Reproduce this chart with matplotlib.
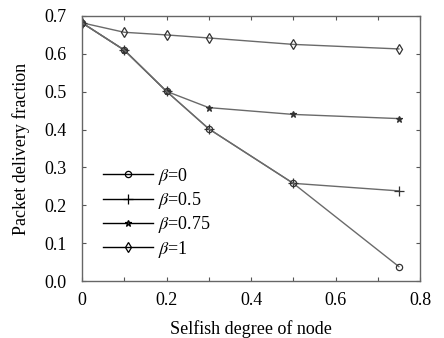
import matplotlib
matplotlib.use("Agg")
import matplotlib.pyplot as plt
from matplotlib.ticker import MultipleLocator

plt.rcParams['font.family'] = ['Liberation Serif', 'DejaVu Serif']
plt.rcParams['mathtext.fontset'] = 'stix'

selfish = [0.0, 0.1, 0.2, 0.3, 0.5, 0.75]
pdf_b0 = [0.682, 0.610, 0.501, 0.402, 0.258, 0.038]
pdf_b05 = [0.682, 0.610, 0.501, 0.402, 0.258, 0.238]
pdf_b075 = [0.682, 0.610, 0.501, 0.458, 0.440, 0.429]
pdf_b1 = [0.682, 0.657, 0.650, 0.642, 0.625, 0.613]
labels = [r'$\beta$=0', r'$\beta$=0.5', r'$\beta$=0.75', r'$\beta$=1']

fig = plt.figure(figsize=(4.44, 3.38), dpi=100)
ax = fig.add_axes([82/444, 1-281/338, (420-82)/444, (281-16)/338])

line_c = '#6a6a6a'
mk_c = '#333333'
styles = [
    dict(marker='o', ms=4.5, mfc='none'),
    dict(marker='+', ms=7),
    dict(marker='*', ms=5, mfc=mk_c),
    dict(marker='d', ms=5.5, mfc='none'),
]
data = [pdf_b0, pdf_b05, pdf_b075, pdf_b1]

for ys, kw in reversed(list(zip(data, styles))):
    ax.plot(selfish, ys, color=line_c, lw=1.0, mec=mk_c, mew=0.9, **kw)

# key drawn in black
leg_h = []
for kw in styles:
    h, = ax.plot([], [], color='black', lw=1.0, mec='black', mew=0.9, **kw)
    leg_h.append(h)
ax.legend(leg_h, labels, loc='upper left', bbox_to_anchor=(0.04, 0.462),
          frameon=False, fontsize=13, handlelength=2.8, handletextpad=0.25,
          labelspacing=0.18, borderaxespad=0)

ax.set_xlim(0, 0.8)
ax.set_ylim(0, 0.7)
ax.xaxis.set_minor_locator(MultipleLocator(0.1))
ax.yaxis.set_major_locator(MultipleLocator(0.1))
ax.set_xticks([0, 0.2, 0.4, 0.6, 0.8])
ax.set_xticklabels(['0', '0.2', '0.4', '0.6', '0.8'])
ax.tick_params(which='both', direction='in', top=True, right=True,
               labelsize=13, color='#555555', width=0.8, length=3)
ax.tick_params(axis='x', pad=8)
ax.tick_params(axis='y', pad=11)
for s in ax.spines.values():
    s.set_color('#666666')
    s.set_linewidth(1.0)

ax.set_xlabel('Selfish degree of node', fontsize=13, labelpad=8)
ax.set_ylabel('Packet delivery fraction', fontsize=13, labelpad=10)

fig.savefig('out.png', dpi=100)
